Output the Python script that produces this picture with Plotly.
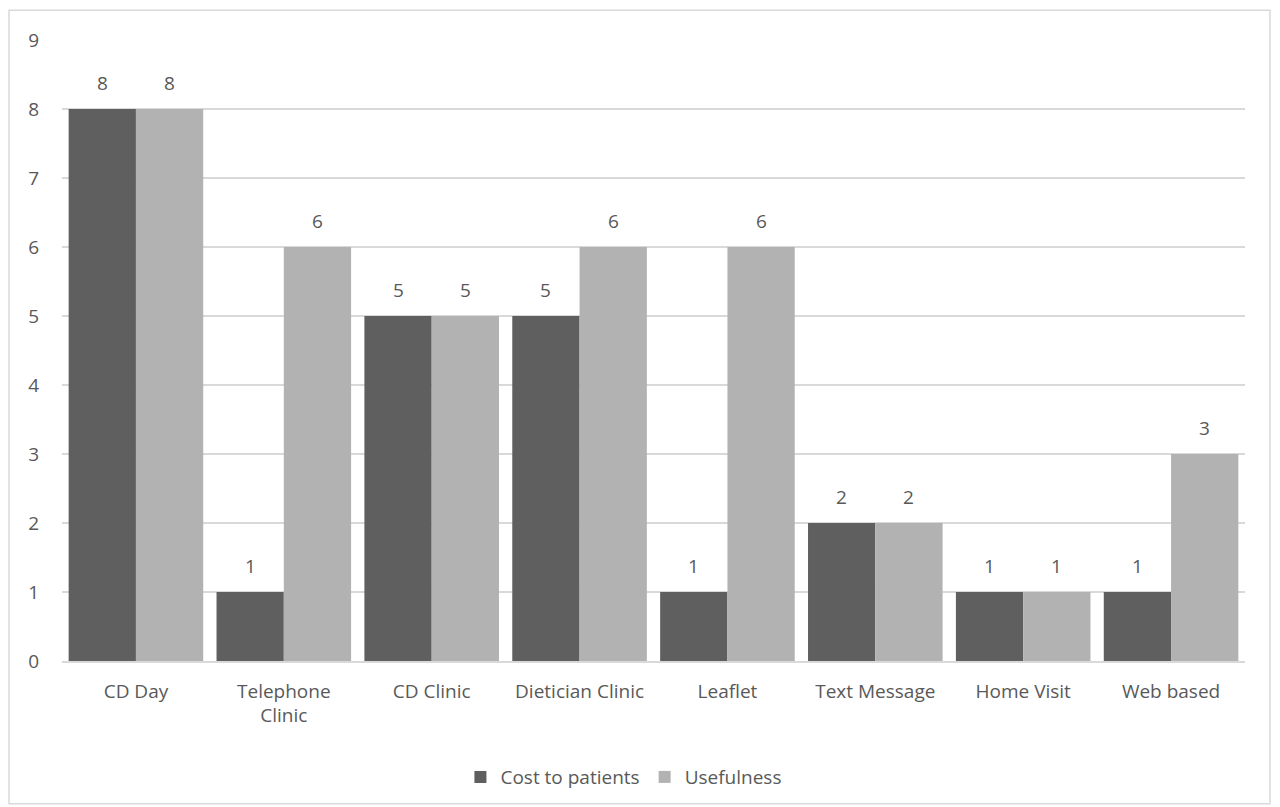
import plotly.graph_objects as go

categories = ["CD Day", "Telephone<br>Clinic", "CD Clinic", "Dietician Clinic",
              "Leaflet", "Text Message", "Home Visit", "Web based"]
cost_to_patients = [8, 1, 5, 5, 1, 2, 1, 1]
usefulness = [8, 6, 5, 6, 6, 2, 1, 3]
y_ticks = list(range(0, 10))

DARK = "#5f5f5f"
LIGHT = "#b2b2b2"
TEXT = "#595959"
FONT = "Open Sans"
FS = 19
BARGAP = 0.09

fig = go.Figure()
fig.add_trace(go.Bar(name="Cost to patients", x=categories, y=cost_to_patients,
                     marker=dict(color=DARK, line=dict(width=0))))
fig.add_trace(go.Bar(name="Usefulness", x=categories, y=usefulness,
                     marker=dict(color=LIGHT, line=dict(width=0))))

# value labels centred over each bar
half = (1 - BARGAP) / 4
for i in range(len(categories)):
    for off, vals in ((-half, cost_to_patients), (half, usefulness)):
        fig.add_annotation(x=i + off, y=vals[i], xref="x", yref="y",
                           text=str(vals[i]), showarrow=False,
                           yanchor="bottom", yshift=11,
                           font=dict(family=FONT, size=FS, color=TEXT))

# chart area frame
fig.add_shape(type="rect", xref="paper", yref="paper",
              x0=-0.0448, x1=1.0211, y0=-0.2299, y1=1.048,
              line=dict(color="#d9d9d9", width=1.5), fillcolor="rgba(0,0,0,0)")

fig.update_layout(
    width=1280, height=807,
    margin=dict(l=62, r=35, t=40, b=145),
    paper_bgcolor="white", plot_bgcolor="white",
    barmode="group", bargap=BARGAP, bargroupgap=0,
    font=dict(family=FONT, size=FS, color=TEXT),
    legend=dict(orientation="h", x=0.475, xanchor="center", y=-0.185, yanchor="middle",
                font=dict(family=FONT, size=FS, color=TEXT), traceorder="normal",
                itemwidth=30),
    showlegend=True,
)
fig.update_xaxes(showgrid=False, showline=True, linecolor="#d9d9d9", linewidth=1.5,
                 ticks="", ticklabelstandoff=12,
                 tickfont=dict(family=FONT, size=FS, color=TEXT))
fig.update_yaxes(range=[0, 9], tickvals=y_ticks, showgrid=True, gridcolor="#d9d9d9",
                 gridwidth=1.5, zeroline=False, showline=False, ticks="",
                 ticklabelstandoff=22,
                 tickfont=dict(family=FONT, size=FS, color=TEXT))

fig.write_html("out.html")
